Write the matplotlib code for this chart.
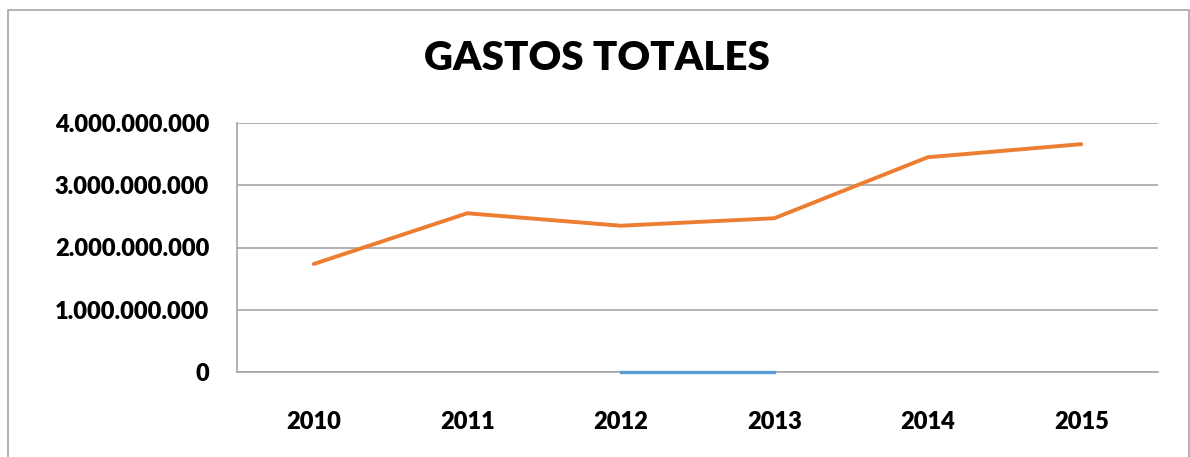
import numpy as np
import matplotlib
matplotlib.use('Agg')
from matplotlib import pyplot as plt
from matplotlib.patches import Rectangle
from matplotlib.ticker import FuncFormatter

years = ['2010', '2011', '2012', '2013', '2014', '2015']
gastos = [1735000000, 2550000000, 2350000000, 2470000000, 3450000000, 3660000000]
# second series in the sheet: only 2012-2013 show, both at 0
otra = [np.nan, np.nan, 0, 0, np.nan, np.nan]
y_ticks = [0, 1000000000, 2000000000, 3000000000, 4000000000]

plt.rcParams['font.family'] = ['Lato', 'DejaVu Sans']

fig = plt.figure(figsize=(11.9, 4.57), dpi=100)
fig.patches.append(Rectangle((8 / 1190, -0.05), (1189 - 8) / 1190, 1.05 - 10 / 457,
                             transform=fig.transFigure, fill=False,
                             edgecolor='#a6a6a6', linewidth=1.2))

ax = fig.add_axes([237 / 1190, 1 - 372 / 457, (1158 - 237) / 1190, (372 - 123) / 457])

x = np.arange(len(years))
ax.plot(x, otra, color='#5b9bd5', linewidth=2.4, zorder=5, clip_on=False)
ax.plot(x, gastos, color='#ed7d31', linewidth=2.8, zorder=6, solid_capstyle='round')

ax.set_xlim(-0.5, len(years) - 0.5)
ax.set_ylim(0, 4000000000)
ax.set_yticks(y_ticks)
ax.yaxis.set_major_formatter(FuncFormatter(lambda v, p: '{:,.0f}'.format(v).replace(',', '.')))
ax.set_xticks(x)
ax.set_xticklabels(years)

ax.grid(axis='y', color='#a6a6a6', linewidth=1.2)
ax.set_axisbelow(True)
for s in ['top', 'right']:
    ax.spines[s].set_visible(False)
for s in ['left', 'bottom']:
    ax.spines[s].set_color('#a6a6a6')
    ax.spines[s].set_linewidth(1.2)
    ax.spines[s].set_zorder(2)

ax.tick_params(axis='both', length=0, labelsize=17)
ax.tick_params(axis='y', pad=20)
ax.tick_params(axis='x', pad=28)
for lab in ax.get_xticklabels() + ax.get_yticklabels():
    lab.set_fontweight('heavy')

fig.text(597 / 1190, 1 - 59 / 457, 'GASTOS TOTALES', ha='center', va='center',
         fontsize=29, fontweight='heavy')

fig.savefig('out.png', dpi=100)
